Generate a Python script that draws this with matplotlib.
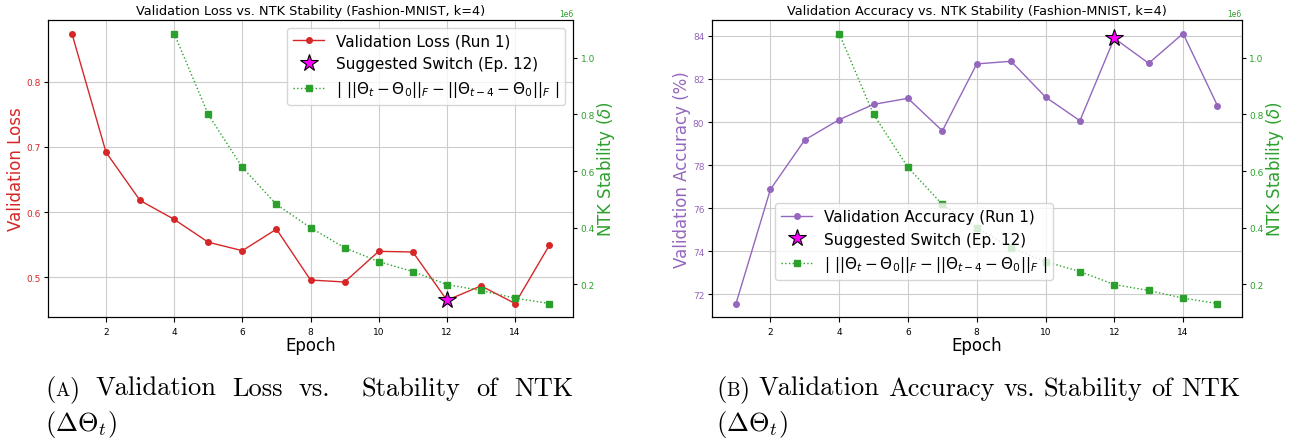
import matplotlib.pyplot as plt
import numpy as np

epochs = list(range(1, 16))
val_loss = [0.874, 0.692, 0.618, 0.589, 0.554, 0.541, 0.574, 0.496, 0.493,
            0.540, 0.539, 0.465, 0.487, 0.460, 0.549]
val_acc = [71.57, 76.87, 79.17, 80.11, 80.82, 81.10, 79.59, 82.70, 82.82,
           81.16, 80.06, 83.89, 82.73, 84.11, 80.76]
ntk_epochs = list(range(4, 16))
ntk_stab = [1.086e6, 0.800e6, 0.613e6, 0.482e6, 0.400e6, 0.329e6, 0.280e6,
            0.245e6, 0.199e6, 0.178e6, 0.151e6, 0.132e6]
switch_epoch = 12

ntk_label = r"$|\ ||\Theta_t - \Theta_0||_F - ||\Theta_{t-4} - \Theta_0||_F\ |$"

caption_a = ["Validation", "Loss", "vs.", "Stability", "of", "NTK"]
caption_b = ["Validation", "Accuracy", "vs.", "Stability", "of", "NTK"]


def draw_panel(fig, rect, values, color, ylabel, title, legend_kw):
    ax = fig.add_axes(rect)
    l1, = ax.plot(epochs, values, color=color, marker="o", markersize=4,
                  linewidth=1.0, label=f"{ylabel.split(' (')[0]} (Run 1)")
    idx = epochs.index(switch_epoch)
    s1, = ax.plot([switch_epoch], [values[idx]], linestyle="none", marker="*",
                  markersize=13, markerfacecolor="magenta",
                  markeredgecolor="black", markeredgewidth=0.8, zorder=5,
                  label=f"Suggested Switch (Ep. {switch_epoch})")
    ax.set_ylabel(ylabel, color=color, fontsize=12, labelpad=1)
    ax.set_xlabel("Epoch", fontsize=12, labelpad=0)
    ax.tick_params(axis="y", labelcolor=color, labelsize=6.5, length=3, pad=2.5)
    ax.tick_params(axis="x", labelsize=6.5)
    ax.grid(True, color="#cccccc", linewidth=0.8)
    ax.set_title(title, fontsize=9.3, pad=4)

    ax2 = ax.twinx()
    l2, = ax2.plot(ntk_epochs, ntk_stab, color="tab:green", linestyle=":",
                   marker="s", markersize=4, linewidth=1.0, label=ntk_label)
    ax2.set_ylabel(r"NTK Stability ($\delta$)", color="tab:green", fontsize=12,
                   labelpad=0)
    ax2.tick_params(axis="y", labelcolor="tab:green", labelsize=6.5, length=3,
                    pad=2.5)
    ax2.yaxis.get_offset_text().set_color("tab:green")
    ax2.yaxis.get_offset_text().set_fontsize(5.5)
    ax2.legend(handles=[l1, s1, l2], fontsize=11, **legend_kw)
    return ax, ax2


fig = plt.figure(figsize=(12.98, 4.39), dpi=100)

draw_panel(fig, [0.037, 0.2756, 0.4045, 0.6765], val_loss, "tab:red",
           "Validation Loss",
           "Validation Loss vs. NTK Stability (Fashion-MNIST, k=4)",
           dict(loc="upper right"))
draw_panel(fig, [0.5485, 0.2756, 0.408, 0.6765], val_acc, "tab:purple",
           "Validation Accuracy (%)",
           "Validation Accuracy vs. NTK Stability (Fashion-MNIST, k=4)",
           dict(loc="lower left", bbox_to_anchor=(0.105, 0.098)))

# captions in Computer Modern, first line justified like LaTeX
renderer = fig.canvas.get_renderer()
W = fig.bbox.width
cap_fs = 19
cap_kw = dict(family="cmr10", math_fontfamily="cm")


def put(x_px, y, s, fs):
    t = fig.text(x_px / W, y, s, fontsize=fs, **cap_kw)
    return t, t.get_window_extent(renderer).width


def caption(x0, x1, y1, y2, letter, words, justify):
    x = x0
    _, w = put(x, y1, "(", cap_fs); x += w
    _, w = put(x, y1, letter, cap_fs * 0.72); x += w
    _, w = put(x, y1, ")", cap_fs); x += w
    space = 0.33 * cap_fs * 100 / 72
    widths = []
    for wd in words:
        t, w = put(0, -1, wd, cap_fs)
        t.remove()
        widths.append(w)
    # wider space after a sentence-ending period, as TeX does
    weights = [2.0 if i > 0 and words[i - 1].endswith(".") else 1.0
               for i in range(len(words))]
    if justify:
        unit = (x1 - x - sum(widths)) / sum(weights)
    else:
        unit = space
    for wd, w, k in zip(words, widths, weights):
        x += unit * (k if justify else 1.0)
        put(x, y1, wd, cap_fs)
        x += w
    put(x0, y2, r"($\Delta\Theta_t$)", cap_fs)


caption(45, 573, 0.098, 0.019, "A", caption_a, True)
caption(716, 1246, 0.098, 0.019, "B", caption_b, False)

fig.savefig("out.png", dpi=100)
